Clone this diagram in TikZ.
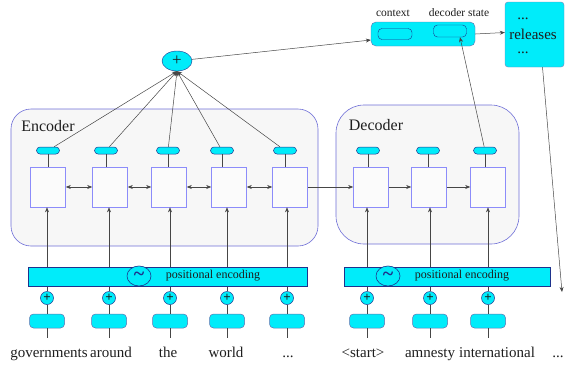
\documentclass[tikz,border=0pt]{standalone}
\usepackage{fontspec}
\setmainfont{Liberation Serif}
\usetikzlibrary{arrows.meta,shapes.geometric}
\definecolor{aqua}{RGB}{0,236,250}
\definecolor{navy}{RGB}{30,50,140}
\definecolor{frame}{RGB}{110,110,215}
\definecolor{cellframe}{RGB}{140,140,250}
\definecolor{panel}{RGB}{247,247,247}
\definecolor{wirecol}{RGB}{70,70,70}
\definecolor{ink}{RGB}{30,30,30}
\def\threedots{...}

\begin{document}
\begin{tikzpicture}[x=1pt,y=-1pt,
  every node/.style={text=ink},
  container/.style={draw=frame,fill=panel,line width=0.6pt,inner sep=0},
  cell/.style={draw=cellframe,fill=white!97!gray,line width=0.6pt,minimum width=35pt,minimum height=40pt,inner sep=0},
  pill/.style={draw=navy,fill=aqua,rounded corners=3.5pt,minimum width=23pt,minimum height=7pt,inner sep=0,line width=0.5pt},
  embed/.style={draw=navy!70,fill=aqua,rounded corners=4pt,minimum width=35pt,minimum height=14pt,inner sep=0,line width=0.5pt},
  adder/.style={ellipse,draw=navy,fill=aqua,minimum width=13pt,minimum height=13pt,inner sep=0,font=\fontsize{13}{13}\selectfont\bfseries,line width=0.5pt},
  posbar/.style={draw=navy,fill=aqua,minimum height=19pt,inner sep=0,line width=0.6pt},
  wave/.style={ellipse,draw=navy,fill=aqua,minimum width=24pt,minimum height=20pt,inner sep=0,line width=0.6pt,font=\fontsize{20}{20}\selectfont\bfseries},
  word/.style={font=\fontsize{15}{15}\selectfont,inner sep=1pt,anchor=base},
  small/.style={font=\fontsize{11.5}{11.5}\selectfont,inner sep=1pt},
  wire/.style={draw=wirecol,line width=0.5pt},
  tip/.style={-{Stealth[length=5pt,width=4pt]}},
  bitip/.style={{Stealth[length=5pt,width=4pt]}-{Stealth[length=5pt,width=4pt]}},
]

\useasboundingbox (0,0) rectangle (565,365);

% encoder and decoder panels
\node[container,rounded corners=20pt,minimum width=307pt,minimum height=137pt] (enc) at (164.5,177.5) {};
\node[container,rounded corners=28pt,minimum width=183pt,minimum height=139pt] (dec) at (427.5,174.5) {};
\node[font=\fontsize{16}{16}\selectfont] (enclabel) at (48,126) {Encoder};
\node[font=\fontsize{16}{16}\selectfont] (declabel) at (376,125) {Decoder};

% encoder columns: cell x / pill x / adder x / word x / word
\foreach \i/\cx/\px/\ax/\wx/\w in {1/48/48/47/49/governments,2/110/106/109/111/around,3/169/168/170/168/the,4/229/222/227/226/world,5/290/285/287/288/\threedots}{
  \node[cell] (ec\i) at (\cx,187) {};
  \node[pill] (ep\i) at (\px,150.5) {};
  \draw[wire] (ep\i.south) -- (ep\i.south |- ec\i.north);
  \node[adder] (ea\i) at (\ax,298) {+};
  \node[embed] (ee\i) at (\ax,321) {};
  \node[word] (ew\i) at (\wx,357) {\w};
  \draw[wire] (ee\i.south) -- ++(0,10);
  \draw[wire] (ee\i.north) -- (ea\i.south);
  \draw[wire,tip] (ea\i.north) -- (ea\i.north |- ec\i.south);
}

% decoder columns
\foreach \i/\cx/\px/\ax/\wx/\w in {1/371/368/367/363/{<start>},2/429/428/430/430/amnesty,3/488/485/488/497/international}{
  \node[cell] (dc\i) at (\cx,187) {};
  \node[pill] (dp\i) at (\px,150.5) {};
  \draw[wire] (dp\i.south) -- (dp\i.south |- dc\i.north);
  \node[adder] (da\i) at (\ax,298) {+};
  \node[embed] (de\i) at (\ax,321) {};
  \node[word] (dw\i) at (\wx,357) {\w};
  \draw[wire] (de\i.south) -- ++(0,10);
  \draw[wire] (de\i.north) -- (da\i.south);
  \draw[wire,tip] (da\i.north) -- (da\i.north |- dc\i.south);
}
\node[word] (dw4) at (558,357) {\threedots};

% recurrent links
\foreach \a/\b in {1/2,2/3,3/4,4/5}{
  \draw[wire,bitip] (ec\a.east) -- (ec\b.west);
}
\draw[wire,tip] (ec5.east) -- (dc1.west);
\draw[wire,tip] (dc1.east) -- (dc2.west);
\draw[wire,tip] (dc2.east) -- (dc3.west);

% positional encoding bars
\node[posbar,minimum width=279pt] (encpos) at (167.5,276.5) {};
\node[wave] (encwave) at (139,276) {\textcolor{navy}{\textasciitilde}};
\node[font=\fontsize{12}{12}\selectfont] (encpostext) at (213,276) {positional encoding};
\node[posbar,minimum width=206pt] (decpos) at (447,276.5) {};
\node[wave] (decwave) at (388,276) {\textcolor{navy}{\textasciitilde}};
\node[font=\fontsize{12}{12}\selectfont] (decpostext) at (462,276) {positional encoding};

% attention sum
\node[ellipse,draw=navy,fill=aqua,minimum width=30pt,minimum height=20pt,inner sep=0,font=\fontsize{17}{17}\selectfont] (sum) at (177,61) {+};
\foreach \i in {1,2,3,4,5}{
  \draw[wire,tip] (ep\i) -- (sum.south);
}

% context / decoder state box
\node[draw=navy!70,fill=aqua,rounded corners=5pt,minimum width=104pt,minimum height=24pt,inner sep=0] (ctx) at (423,34) {};
\node[draw=navy,rounded corners=4pt,minimum width=34pt,minimum height=11pt,inner sep=0] (ctxslot) at (395,34) {};
\node[draw=navy,rounded corners=4pt,minimum width=33pt,minimum height=12pt,inner sep=0] (dstate) at (450,31) {};
\node[small] (ctxlabel) at (393,13) {context};
\node[small] (dslabel) at (459,13) {decoder state};

% output box
\node[draw=navy!60,fill=aqua,rounded corners=3pt,minimum width=59pt,minimum height=65pt,inner sep=0] (rel) at (534.5,34.5) {};
\node[word] (reltop) at (523,19) {\threedots};
\node[word] (relmid) at (533,39) {releases};
\node[word] (relbot) at (523,53) {\threedots};

\draw[wire,tip] (sum) -- ([yshift=-6pt]ctx.west);
\draw[wire,tip] (ctx.east) -- ([yshift=2pt]rel.west);
\draw[wire,tip] (dp3) -- ([xshift=10pt]dstate.south);
\coordinate (relout) at (562,292);
\draw[wire,tip] ([xshift=8pt]rel.south) -- (relout);

\end{tikzpicture}
\end{document}
